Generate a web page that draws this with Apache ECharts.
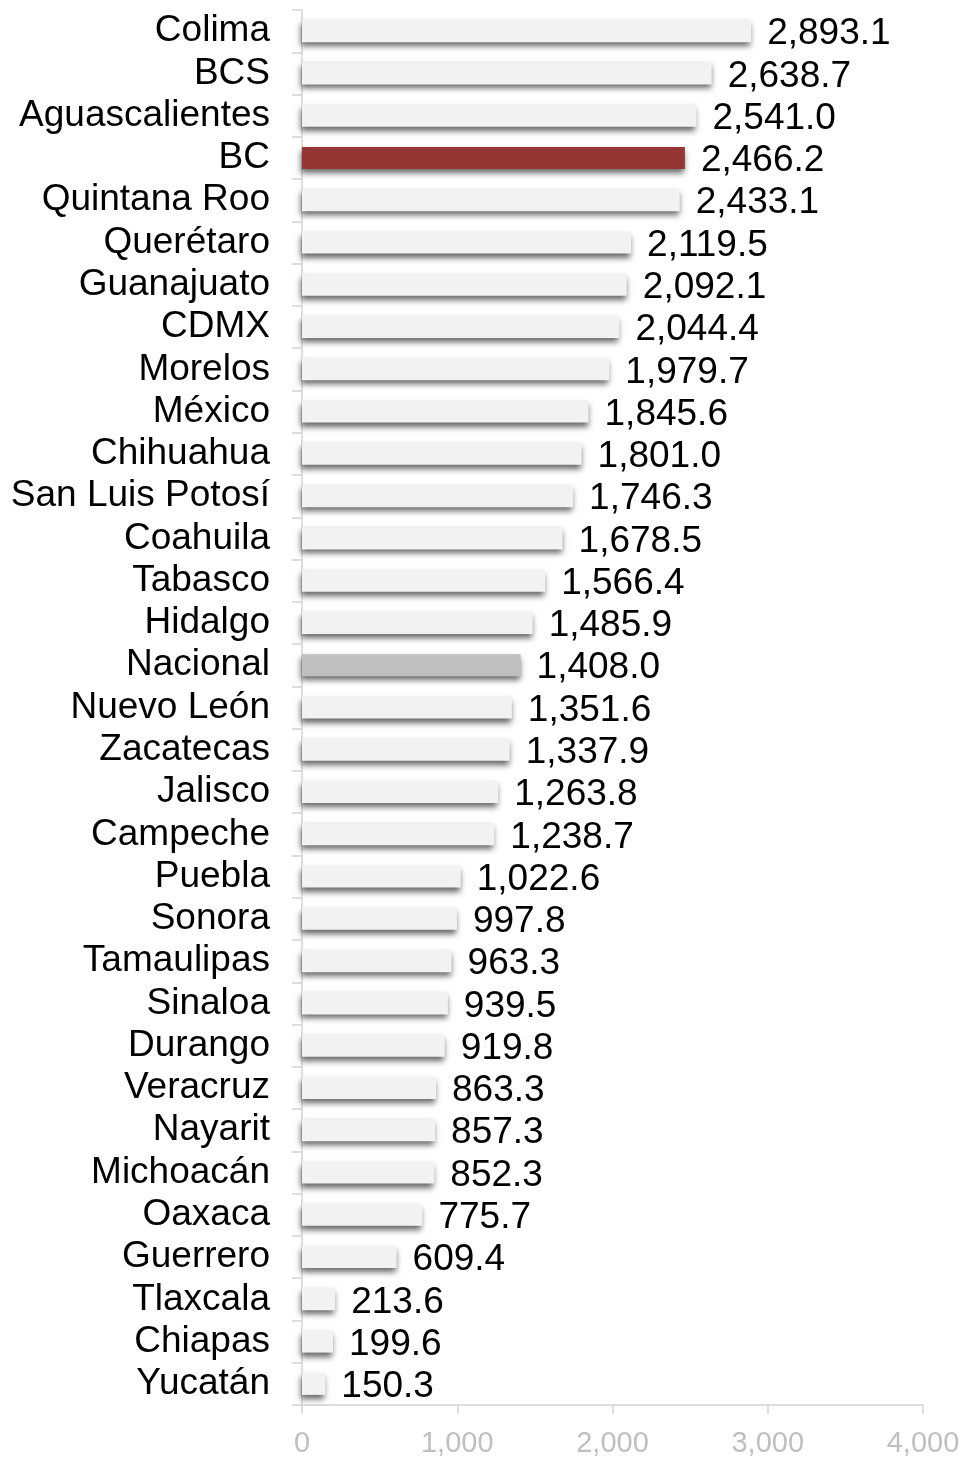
<!DOCTYPE html>
<html>
<head>
<meta charset="utf-8">
<script src="https://cdn.jsdelivr.net/npm/echarts@6/dist/echarts.min.js"></script>
<style>
  html, body { margin: 0; padding: 0; background: #fff; }
  #chart { width: 965px; height: 1459px; }
</style>
</head>
<body>
<div id="chart"></div>
<script>
// estados, de arriba hacia abajo
const estados = ['Colima', 'BCS', 'Aguascalientes', 'BC', 'Quintana Roo', 'Querétaro', 'Guanajuato',
  'CDMX', 'Morelos', 'México', 'Chihuahua', 'San Luis Potosí', 'Coahuila', 'Tabasco', 'Hidalgo',
  'Nacional', 'Nuevo León', 'Zacatecas', 'Jalisco', 'Campeche', 'Puebla', 'Sonora', 'Tamaulipas',
  'Sinaloa', 'Durango', 'Veracruz', 'Nayarit', 'Michoacán', 'Oaxaca', 'Guerrero', 'Tlaxcala',
  'Chiapas', 'Yucatán'];
const valores = [2893.1, 2638.7, 2541.0, 2466.2, 2433.1, 2119.5, 2092.1, 2044.4, 1979.7, 1845.6,
  1801.0, 1746.3, 1678.5, 1566.4, 1485.9, 1408.0, 1351.6, 1337.9, 1263.8, 1238.7, 1022.6, 997.8,
  963.3, 939.5, 919.8, 863.3, 857.3, 852.3, 775.7, 609.4, 213.6, 199.6, 150.3];
const xTicks = [0, 1000, 2000, 3000, 4000];

const colorBase = '#f2f2f2';
const colorDestacado = { 'BC': '#943634', 'Nacional': '#bfbfbf' };
const fmt = v => v.toLocaleString('en-US', { minimumFractionDigits: 1, maximumFractionDigits: 1 });

const chart = echarts.init(document.getElementById('chart'));
chart.setOption({
  animation: false,
  textStyle: { fontFamily: 'Liberation Sans, Arial, sans-serif' },
  grid: { left: 302, right: 42, top: 10, bottom: 54 },
  xAxis: {
    type: 'value',
    min: xTicks[0],
    max: xTicks[xTicks.length - 1],
    interval: 1000,
    splitLine: { show: false },
    axisLine: { show: true, lineStyle: { color: '#d4d4d4', width: 1.5 } },
    axisTick: { show: true, length: 9, lineStyle: { color: '#d4d4d4', width: 1.5 } },
    axisLabel: {
      color: '#bfbfbf', fontSize: 29, margin: 24,
      formatter: v => v.toLocaleString('en-US')
    }
  },
  yAxis: {
    type: 'category',
    inverse: true,
    data: estados,
    axisLine: { show: true, lineStyle: { color: '#d4d4d4', width: 1.5 } },
    axisTick: { show: true, length: 10, interval: 0, lineStyle: { color: '#d4d4d4', width: 1.5 } },
    axisLabel: { color: '#000', fontSize: 37, margin: 32, interval: 0 }
  },
  series: [{
    type: 'bar',
    barWidth: 22,
    data: valores.map((v, i) => ({
      value: v,
      itemStyle: { color: colorDestacado[estados[i]] || colorBase }
    })),
    itemStyle: {
      shadowColor: 'rgba(0,0,0,0.6)',
      shadowBlur: 6,
      shadowOffsetX: -1,
      shadowOffsetY: 4
    },
    label: {
      show: true,
      position: 'right',
      distance: 16,
      offset: [0, 3],
      color: '#000',
      fontSize: 37,
      formatter: p => fmt(p.value)
    }
  }]
});
</script>
</body>
</html>
